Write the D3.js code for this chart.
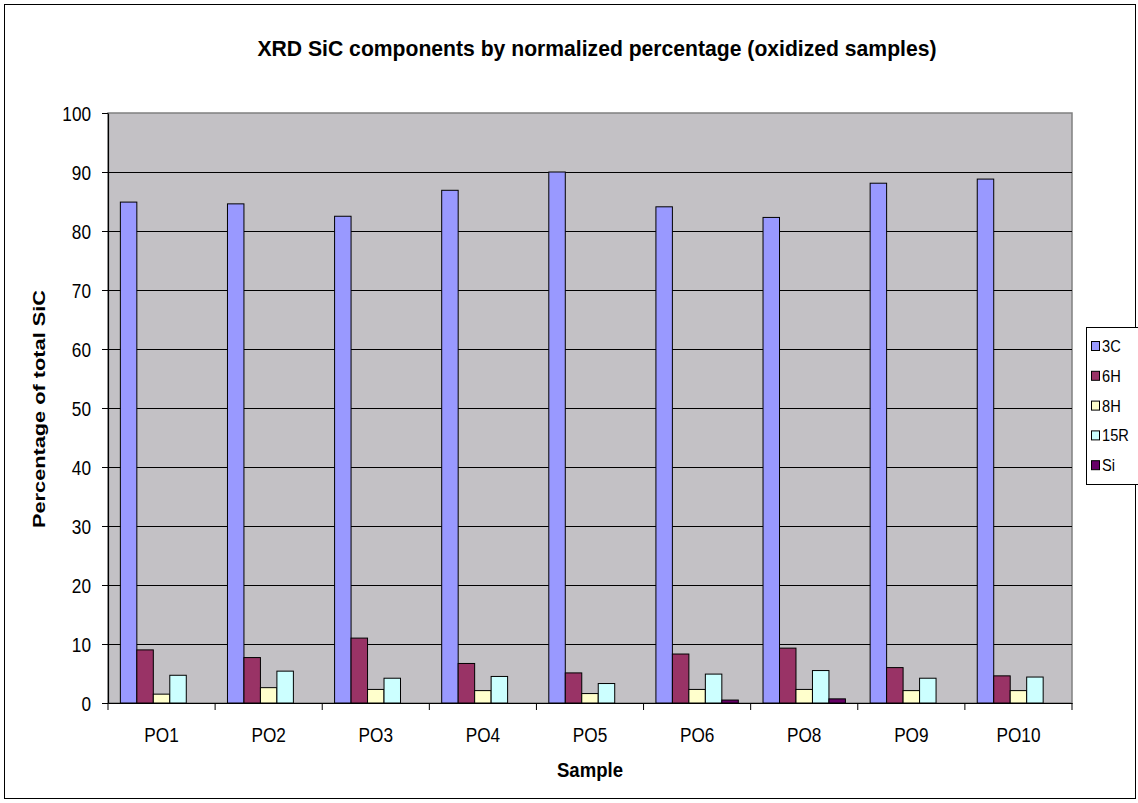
<!DOCTYPE html>
<html>
<head>
<meta charset="utf-8">
<script src="https://cdn.jsdelivr.net/npm/d3@7/dist/d3.min.js"></script>
<style>
  html, body { margin: 0; padding: 0; background: #fff; }
  svg text { font-family: "Liberation Sans", Arial, sans-serif; }
</style>
</head>
<body>
<svg id="chart" width="1138" height="803"></svg>
<script>
// Samples and SiC polytype shares (% of total SiC)
const samples = ["PO1", "PO2", "PO3", "PO4", "PO5", "PO6", "PO8", "PO9", "PO10"];
const seriesNames = ["3C", "6H", "8H", "15R", "Si"];
const values3C  = [84.9, 84.6, 82.5, 86.9, 90.0, 84.1, 82.3, 88.1, 88.8];
const values6H  = [9.0, 7.7, 11.0, 6.7, 5.1, 8.3, 9.3, 6.0, 4.6];
const values8H  = [1.5, 2.6, 2.3, 2.1, 1.6, 2.3, 2.3, 2.1, 2.1];
const values15R = [4.7, 5.4, 4.2, 4.5, 3.3, 4.9, 5.5, 4.2, 4.4];
const valuesSi  = [0, 0, 0, 0, 0, 0.5, 0.7, 0, 0];
const yTicks = [0, 10, 20, 30, 40, 50, 60, 70, 80, 90, 100];
const seriesColors = ["#9999FF", "#993366", "#FFFFCC", "#CCFFFF", "#660066"];

const seriesValues = [values3C, values6H, values8H, values15R, valuesSi];
const rows = samples.map((s, i) => ({
  sample: s,
  vals: seriesNames.map((n, k) => ({ key: n, value: seriesValues[k][i] }))
}));

// narrow the glyphs horizontally (tall, condensed lettering)
function condense(sel, sx) {
  sel.each(function () {
    const w = this.getComputedTextLength();
    d3.select(this)
      .attr("textLength", w * sx)
      .attr("lengthAdjust", "spacingAndGlyphs");
  });
}

const svg = d3.select("#chart");

// outer chart frame
svg.append("rect")
  .attr("x", 4.5).attr("y", 4.5).attr("width", 1131).attr("height", 794)
  .attr("fill", "#fff").attr("stroke", "#000").attr("stroke-width", 1);

const plot = { left: 108, right: 1072, top: 113, bottom: 703 };

const x0 = d3.scaleBand().domain(samples).range([plot.left, plot.right]).padding(0);
const cw = x0.bandwidth();
const barW = cw / 6.5;                 // gap between groups = 1.5 bar widths
const x1 = d3.scaleBand().domain(seriesNames)
  .range([barW * 0.75, cw - barW * 0.75]).padding(0);
const y = d3.scaleLinear().domain([0, 100]).range([plot.bottom, plot.top]);
const color = d3.scaleOrdinal().domain(seriesNames).range(seriesColors);

// plot area background
svg.append("rect")
  .attr("x", plot.left).attr("y", plot.top)
  .attr("width", plot.right - plot.left).attr("height", plot.bottom - plot.top)
  .attr("fill", "#C3C1C5").attr("stroke", "#808080").attr("stroke-width", 1.5);

// horizontal gridlines
svg.append("g").selectAll("line")
  .data(yTicks.filter(t => t > 0 && t < 100))
  .join("line")
  .attr("x1", plot.left).attr("x2", plot.right)
  .attr("y1", d => Math.round(y(d)) + 0.5).attr("y2", d => Math.round(y(d)) + 0.5)
  .attr("stroke", "#000").attr("stroke-width", 1.2);

// bars
const groups = svg.append("g").selectAll("g")
  .data(rows).join("g")
  .attr("transform", d => `translate(${x0(d.sample)},0)`);

groups.selectAll("rect")
  .data(d => d.vals.filter(v => v.value > 0))
  .join("rect")
  .attr("x", d => x1(d.key))
  .attr("y", d => y(d.value))
  .attr("width", x1.bandwidth())
  .attr("height", d => y(0) - y(d.value))
  .attr("fill", d => color(d.key))
  .attr("stroke", "#000").attr("stroke-width", 1);

// y axis
const yAxis = svg.append("g")
  .attr("transform", `translate(${plot.left},0)`)
  .call(d3.axisLeft(y).tickValues(yTicks).tickSize(6).tickSizeOuter(0).tickPadding(11));
yAxis.select(".domain").attr("stroke", "#000").attr("stroke-width", 1.2);
yAxis.selectAll(".tick line").attr("stroke", "#000");
yAxis.selectAll("text")
  .attr("dy", "0.36em")
  .style("font-size", "20px").attr("fill", "#000")
  .call(condense, 0.86);

// x axis
const xAxis = svg.append("g")
  .attr("transform", `translate(0,${plot.bottom})`)
  .call(d3.axisBottom(x0).tickSize(0).tickPadding(25));
xAxis.select(".domain").attr("stroke", "#000").attr("stroke-width", 1.2);
xAxis.selectAll("text").style("font-size", "20px").attr("fill", "#000")
  .call(condense, 0.86);
// category separator ticks
svg.append("g").selectAll("line")
  .data(d3.range(samples.length + 1))
  .join("line")
  .attr("x1", i => plot.left + i * cw).attr("x2", i => plot.left + i * cw)
  .attr("y1", plot.bottom).attr("y2", plot.bottom + 7)
  .attr("stroke", "#000");

// title
svg.append("text")
  .attr("x", 597).attr("y", 56)
  .attr("text-anchor", "middle")
  .style("font-size", "22px").style("font-weight", "bold")
  .attr("textLength", 679).attr("lengthAdjust", "spacingAndGlyphs")
  .text("XRD SiC components by normalized percentage (oxidized samples)");

// axis titles
svg.append("text")
  .attr("x", 590).attr("y", 777)
  .attr("text-anchor", "middle")
  .style("font-size", "20px").style("font-weight", "bold")
  .attr("textLength", 66).attr("lengthAdjust", "spacingAndGlyphs")
  .text("Sample");

svg.append("text")
  .attr("transform", "translate(45,409) rotate(-90)")
  .attr("text-anchor", "middle")
  .style("font-size", "17px").style("font-weight", "bold")
  .attr("textLength", 238).attr("lengthAdjust", "spacingAndGlyphs")
  .text("Percentage of total SiC");

// legend
const legend = svg.append("g");
legend.append("rect")
  .attr("x", 1086.5).attr("y", 327.5).attr("width", 60).attr("height", 157)
  .attr("fill", "#fff").attr("stroke", "#000");
const li = legend.selectAll("g.item")
  .data(seriesNames).join("g").attr("class", "item")
  .attr("transform", (d, i) => `translate(1091,${341 + i * 29.8})`);
li.append("rect")
  .attr("x", 0.5).attr("y", 0.5).attr("width", 8).attr("height", 9)
  .attr("fill", d => color(d)).attr("stroke", "#000");
li.append("text")
  .attr("x", 11).attr("y", 11)
  .style("font-size", "17px")
  .text(d => d)
  .call(condense, 0.86);
</script>
</body>
</html>
